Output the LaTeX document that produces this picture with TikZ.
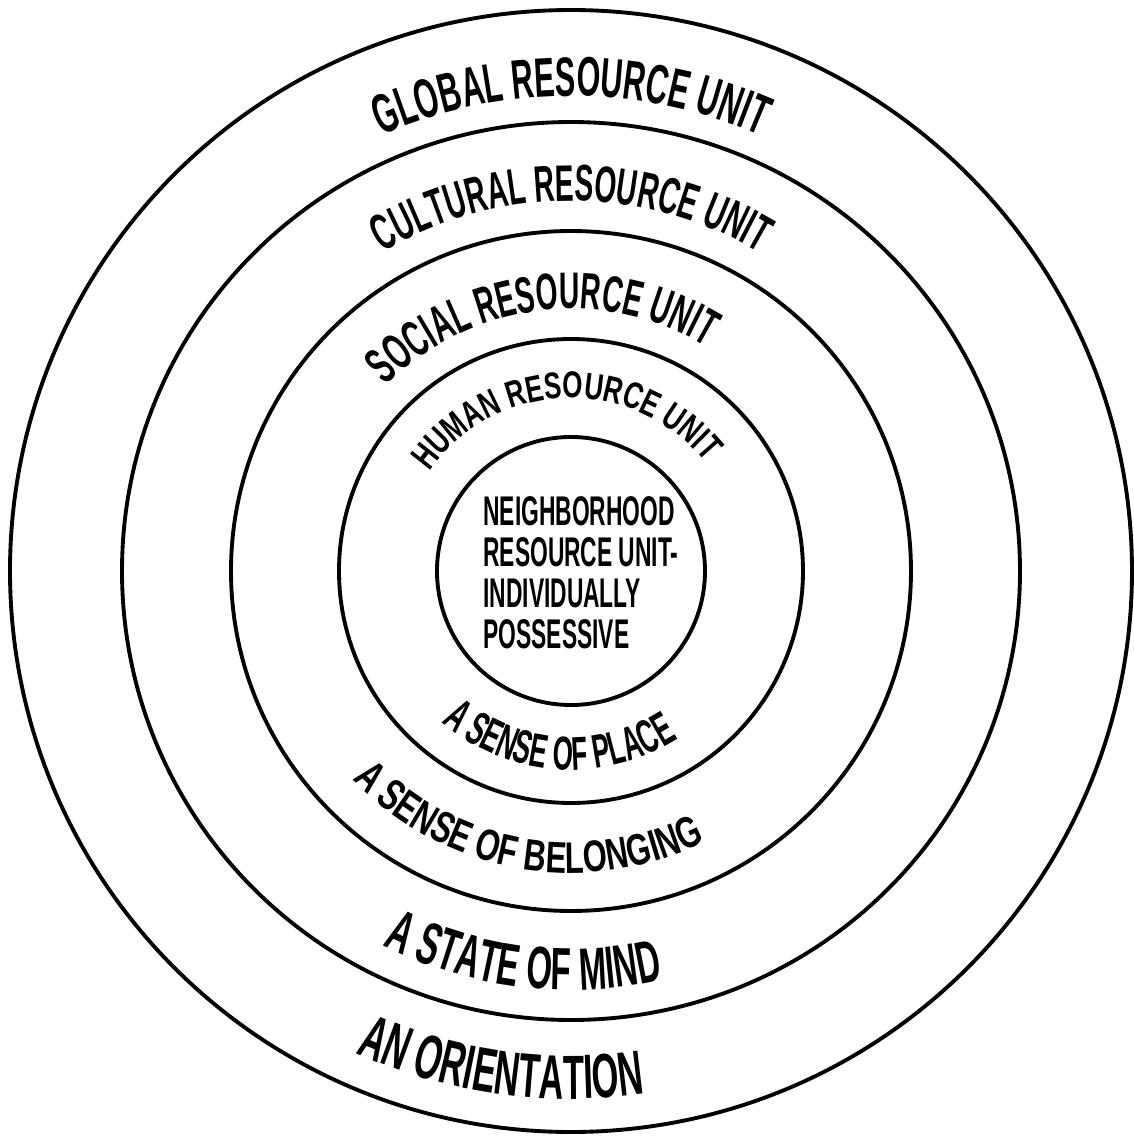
\documentclass[tikz,border=0pt]{standalone}
\usepackage{fontspec}
\setmainfont{Liberation Sans}
\newfontfamily\handfont[FakeStretch=0.55]{Liberation Sans Bold}
\newfontfamily\handwide[FakeStretch=0.7]{Liberation Sans Bold}
\usetikzlibrary{decorations.text}

\begin{document}
\begin{tikzpicture}[
    ring/.style={draw, line width=1.1pt},
    ringtext/.style={decorate, decoration={text along path, text align=center, text={#1}}},
    core/.style={font=\handfont\fontsize{11.8}{11.7}\selectfont, align=left, inner sep=0pt}
]
\useasboundingbox (0,0) rectangle (11.34,11.36);
\coordinate (c) at (5.71,5.65);

% Rings
\draw[ring] (c) circle[radius=5.61];
\draw[ring] (c) circle[radius=4.49];
\draw[ring] (c) circle[radius=3.40];
\draw[ring] (c) circle[radius=2.32];
\draw[ring] (c) circle[radius=1.34];

% Upper labels
\path[ringtext={|\handfont\fontsize{15.8}{18}\selectfont|GLOBAL RESOURCE UNIT}]
    ([shift={(c)}]150:4.75) arc[start angle=150, end angle=30, radius=4.75];
\path[ringtext={|\handfont\fontsize{14.6}{17}\selectfont|CULTURAL RESOURCE UNIT}]
    ([shift={(c)}]150:3.70) arc[start angle=150, end angle=30, radius=3.70];
\path[ringtext={|\handfont\fontsize{14.6}{17}\selectfont|SOCIAL RESOURCE UNIT}]
    ([shift={(c)}]157:2.62) arc[start angle=157, end angle=37, radius=2.62];
\path[ringtext={|\handwide\fontsize{10.6}{13}\selectfont|HUMAN RESOURCE UNIT}]
    ([shift={(c)}]170:1.73) arc[start angle=170, end angle=14, radius=1.73];

% Lower labels
\path[ringtext={|\handfont\fontsize{13.5}{15}\selectfont|A SENSE OF PLACE}]
    ([shift={(c)}]196:1.99) arc[start angle=196, end angle=336, radius=1.99];
\path[ringtext={|\handwide\fontsize{12.6}{15}\selectfont|A SENSE OF BELONGING}]
    ([shift={(c)}]190:3.02) arc[start angle=190, end angle=330, radius=3.02];
\path[ringtext={|\handfont\fontsize{17}{20}\selectfont|A STATE OF MIND}]
    ([shift={(c)}]203:4.19) arc[start angle=203, end angle=323, radius=4.19];
\path[ringtext={|\handfont\fontsize{17.8}{20}\selectfont|AN ORIENTATION}]
    ([shift={(c)}]212:5.28) arc[start angle=212, end angle=312, radius=5.28];

% Centre
\node[core] (nbhd) at (5.81,5.63) {NEIGHBORHOOD\\RESOURCE UNIT-\\INDIVIDUALLY\\POSSESSIVE};

\end{tikzpicture}
\end{document}
